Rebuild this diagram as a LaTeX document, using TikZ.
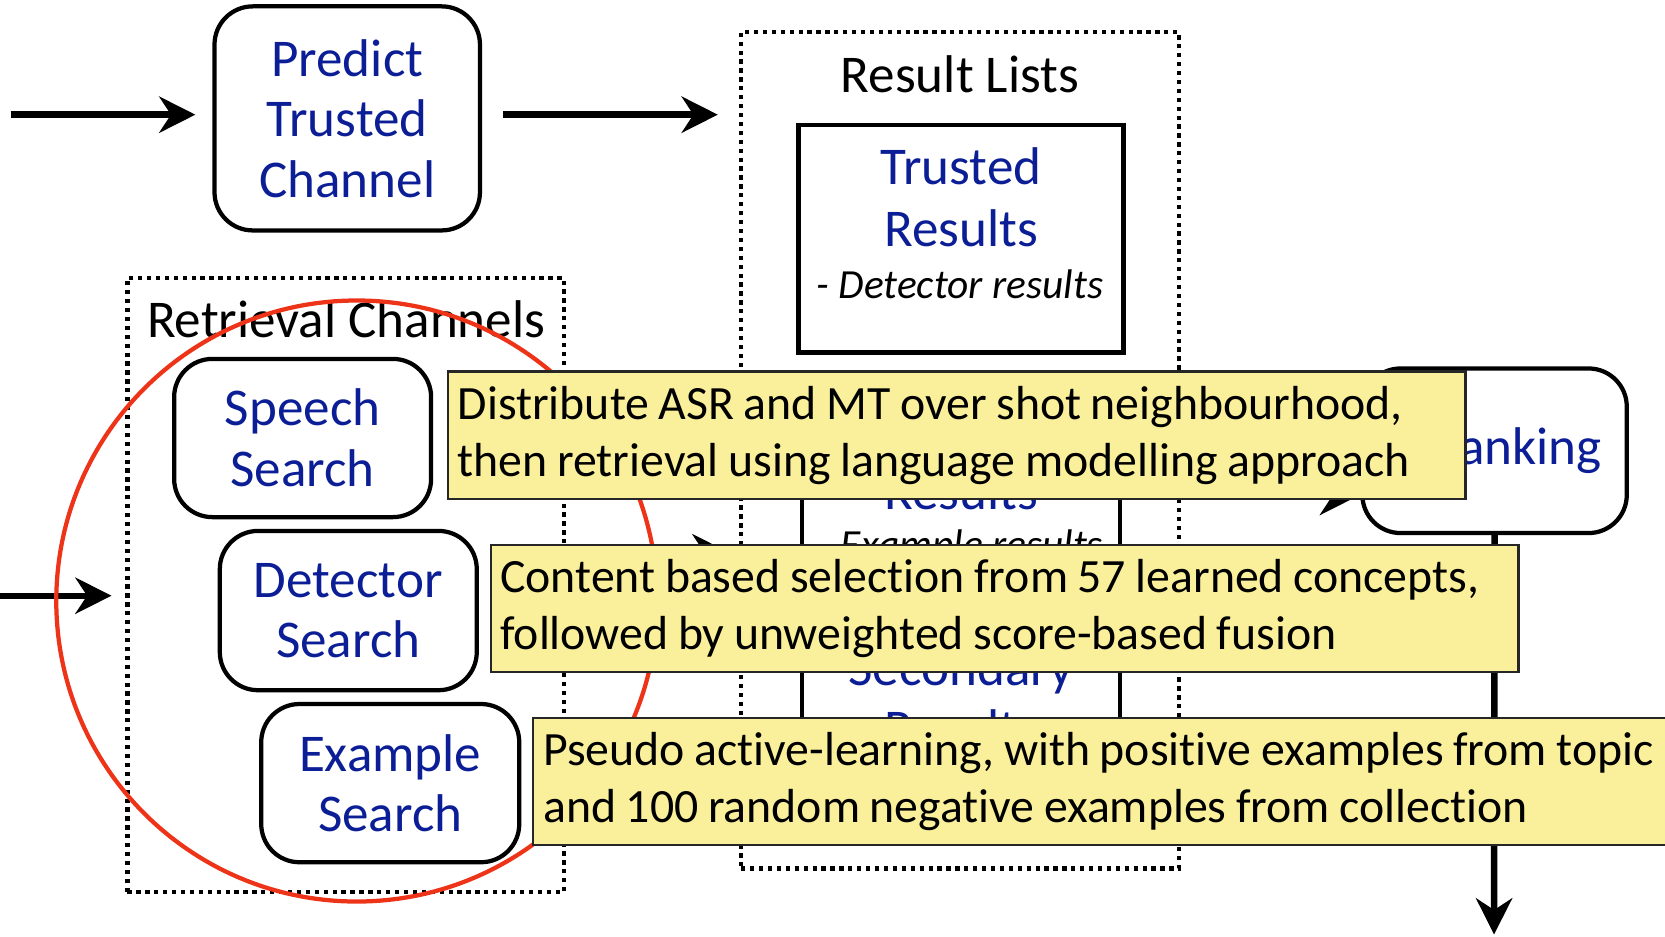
\documentclass[tikz,border=0pt]{standalone}
\usepackage{fontspec}
\setmainfont{Carlito}
\newfontfamily\notefont{Carlito}[Ligatures=NoCommon]
\newcommand\tightspace{\spaceskip=0.2em plus 0.05em minus 0.02em\relax}
\usetikzlibrary{arrows.meta}
\definecolor{tblue}{RGB}{12,30,150}
\definecolor{notefill}{RGB}{250,240,155}
\definecolor{circred}{RGB}{238,52,24}
\begin{document}
\begin{tikzpicture}[x=0.5pt,y=-0.5pt,
  chan/.style={draw, line width=2pt, rounded corners=18pt, text=tblue, align=center,
    font=\fontsize{25}{28.5}\selectfont, inner sep=0pt},
  rbox/.style={draw, line width=2pt, inner sep=0pt},
  dotbox/.style={draw, line width=2pt, dash pattern=on 2pt off 2.2pt, inner sep=0pt},
  btxt/.style={text=tblue, align=center, font=\fontsize{25}{29}\selectfont, inner sep=0pt},
  itxt/.style={align=center, font=\fontsize{19.5}{22}\selectfont\itshape, inner sep=0pt},
  title/.style={font=\fontsize{25}{28}\selectfont, inner sep=0pt},
  note/.style={draw=black!85, line width=1.1pt, fill=notefill, align=left, inner xsep=4.5pt,
    inner ysep=0pt, font=\notefont\fontsize{22.5}{27}\selectfont, anchor=west},
  arr/.style={line width=3pt, -{Stealth[length=17pt,width=17pt,inset=5.5pt]}},
]
\useasboundingbox (0,0) rectangle (1568,882);
\clip (0,0) rectangle (1568,882);

% containers
\node[dotbox, minimum width=206pt, minimum height=394pt] (results) at (904,424) {};
\node[dotbox, minimum width=205.5pt, minimum height=289pt] (channels) at (325.5,551) {};
\node[title] (resultstitle) at (904,70) {Result Lists};
\node[title] (channelstitle) at (326,301) {Retrieval Channels};

% top channel
\node[chan, minimum width=125pt, minimum height=105.5pt] (predict) at (327,111.5) {Predict\\Trusted\\Channel};

% retrieval channels
\node[chan, minimum width=121pt, minimum height=74.5pt] (speech) at (285,412.5) {Speech\\Search};
\node[chan, minimum width=121pt, minimum height=75pt] (detector) at (328,575) {Detector\\Search};
\node[chan, minimum width=121.5pt, minimum height=74.5pt] (example) at (367.5,737.5) {Example\\Search};

% result lists
\node[rbox, minimum width=153pt, minimum height=107pt] (trusted) at (905,225) {};
\node[btxt] (trustedtxt) at (905,186) {Trusted\\Results};
\node[itxt] (trustedsub) at (904,268) {- Detector results};
\node[rbox, minimum width=150pt, minimum height=107pt] (exres) at (905,473) {};
\node[btxt] (exrestxt) at (905,463) {Results};
\node[itxt] (exressub) at (905,516) {- Example results};
\node[rbox, minimum width=150pt, minimum height=101pt] (secres) at (905,691) {};
\node[btxt] (secrestxt) at (905,657) {Secondary\\Results};

% reranking
\node[chan, minimum width=124.5pt, minimum height=77.5pt] (rerank) at (1407.5,424.5) {Reranking};

% connectors
\coordinate (in1) at (10,108);
\coordinate (in2) at (0,561);
\coordinate (out) at (1407,880);
\draw[arr, shorten >=8pt] (in1) -- (in1 -| predict.west);
\draw[arr, shorten <=10pt, shorten >=10pt] (predict.east |- in1) -- (results.west |- in1);
\draw[arr, shorten >=6.5pt] (in2) -- (in2 -| channels.west);
\draw[arr, shorten <=10pt, shorten >=5pt] (channels.east |- 0,520) -- (results.west |- 0,520);
\draw[arr, shorten <=8.5pt, shorten >=2pt] (results.east |- 0,468) -- (rerank.west |- 0,468);
\draw[arr] (rerank.south) -- (out);

% highlight circle
\draw[circred, line width=2pt] (336,566) circle[radius=141.5pt];

% notes
\node[note, minimum width=479pt, minimum height=60pt, text width=470pt] (note1) at (421,410)
  {\tightspace\raisebox{-3.5pt}{Distribute ASR and MT over shot neighbourhood,}\\\raisebox{-3.5pt}{then retrieval using language modelling approach}};
\node[note, minimum width=484pt, minimum height=60pt, text width=475pt] (note2) at (461,573)
  {\tightspace\raisebox{-3.5pt}{Content based selection from 57 learned concepts,}\\\raisebox{-3.5pt}{followed by unweighted score-based fusion}};
\node[note, minimum width=549.5pt, minimum height=60pt, text width=540pt] (note3) at (501,736)
  {\tightspace\raisebox{-3.5pt}{Pseudo active-learning, with positive examples from topic}\\\raisebox{-3.5pt}{and 100 random negative examples from collection}};
\end{tikzpicture}
\end{document}
